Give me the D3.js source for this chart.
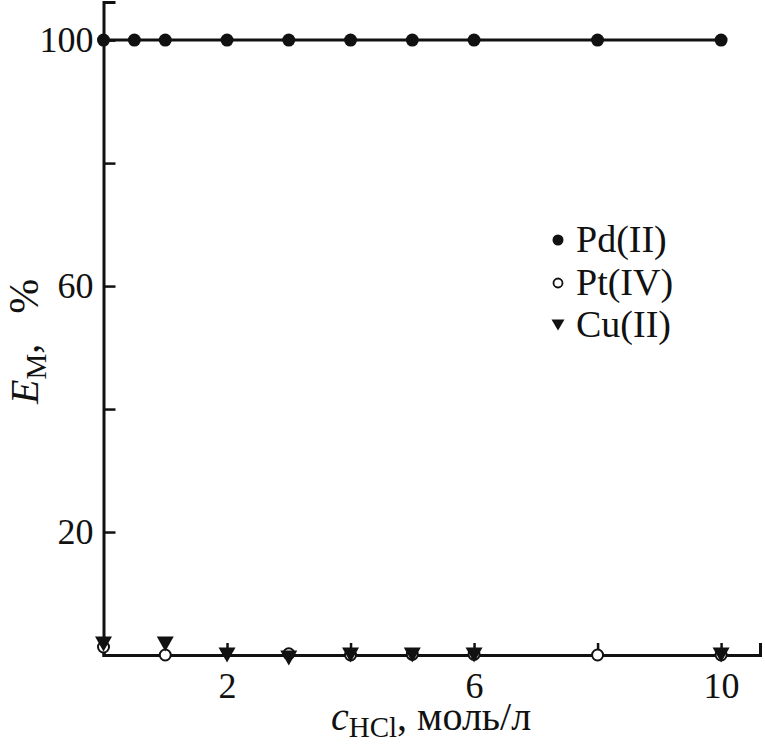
<!DOCTYPE html>
<html><head><meta charset="utf-8">
<script src="https://cdn.jsdelivr.net/npm/d3@7"></script>
<style>
body{margin:0;background:#fff;}
text{font-family:"Liberation Serif","Times New Roman",serif;fill:#111;}
</style></head>
<body><svg id="c" width="765" height="745"></svg>
<script>
// Data
const pdX = [0, 0.5, 1, 2, 3, 4, 5, 6, 8, 10];
const pdY = [100, 100, 100, 100, 100, 100, 100, 100, 100, 100];
const ptX = [0, 1, 3, 4, 5, 6, 8, 10];
const ptY = [1.3, 0, 0.2, 0, 0.1, 0.1, 0, 0];
const cuX = [0, 1, 2, 3, 4, 5, 6, 10];
const cuY = [1.8, 1.8, 0, -0.5, 0, 0, 0, 0];
const xTicks = [2, 4, 6, 8, 10];
const xLabels = [2, 6, 10];
const yTicks = [20, 40, 60, 80, 100];
const yLabels = [20, 60, 100];
const legendNames = ["Pd(II)", "Pt(IV)", "Cu(II)"];

const svg = d3.select("#c");
const x = d3.scaleLinear().domain([0, 10.63]).range([103.5, 760]);
const y = d3.scaleLinear().domain([0, 106.2]).range([655, 2]);
const ink = "#111";

// axes
const gx = svg.append("g").attr("transform", "translate(0,655)")
  .call(d3.axisBottom(x).tickValues(xTicks).tickSize(-12).tickPadding(17)
    .tickFormat(d => xLabels.includes(d) ? d : ""));
const gy = svg.append("g").attr("transform", "translate(103.5,0)")
  .call(d3.axisLeft(y).tickValues(yTicks).tickSize(-12).tickPadding(10)
    .tickFormat(d => yLabels.includes(d) ? d : ""));
[gx, gy].forEach(g => {
  g.select(".domain").attr("stroke", ink).attr("stroke-width", 3);
  g.selectAll(".tick line").attr("stroke", ink).attr("stroke-width", 2.5);
  g.selectAll(".tick text").attr("font-size", 36).attr("font-family", "Liberation Serif").attr("fill", ink);
});

// Pd line + markers
const pd = pdX.map((v, i) => [v, pdY[i]]);
svg.append("path").datum(pd)
  .attr("d", d3.line().x(d => x(d[0])).y(d => y(d[1])))
  .attr("fill", "none").attr("stroke", ink).attr("stroke-width", 3);
svg.selectAll(".pd").data(pd).enter().append("circle")
  .attr("cx", d => x(d[0])).attr("cy", d => y(d[1])).attr("r", 6.5).attr("fill", ink);

// Pt markers
const pt = ptX.map((v, i) => [v, ptY[i]]);
svg.selectAll(".pt").data(pt).enter().append("circle")
  .attr("cx", d => x(d[0])).attr("cy", d => y(d[1])).attr("r", 5.5)
  .attr("fill", "#fff").attr("stroke", ink).attr("stroke-width", 2);

// Cu markers (down triangles)
const tri = (cx, cy, w, h) => `M${cx - w / 2},${cy - h / 2}L${cx + w / 2},${cy - h / 2}L${cx},${cy + h / 2}Z`;
const cu = cuX.map((v, i) => [v, cuY[i]]);
svg.selectAll(".cu").data(cu).enter().append("path")
  .attr("d", d => tri(x(d[0]), y(d[1]), 17, 15)).attr("fill", ink);

// legend
const lg = svg.append("g");
const ly = [240, 283, 325];
lg.append("circle").attr("cx", 558).attr("cy", ly[0]).attr("r", 5.5).attr("fill", ink);
lg.append("circle").attr("cx", 558).attr("cy", ly[1]).attr("r", 4.5).attr("fill", "#fff").attr("stroke", ink).attr("stroke-width", 1.8);
lg.append("path").attr("d", tri(558, ly[2], 13, 11)).attr("fill", ink);
legendNames.forEach((n, i) => {
  lg.append("text").attr("x", 576).attr("y", ly[i] + 12).attr("font-size", 38).text(n);
});

// x title
const xt = svg.append("text").attr("x", 331).attr("y", 730).attr("font-size", 40);
xt.append("tspan").attr("font-style", "italic").text("c");
xt.append("tspan").attr("font-size", 29).attr("dy", 7).text("HCl");
xt.append("tspan").attr("dy", -7).text(", моль/л");

// y title
const yt = svg.append("text").attr("transform", "translate(38,404) rotate(-90)").attr("font-size", 40);
yt.append("tspan").attr("font-style", "italic").text("E");
yt.append("tspan").attr("font-size", 29).attr("dy", 8).text("M");
yt.append("tspan").attr("dy", -8).text(",");
yt.append("tspan").attr("dx", 30).attr("font-size", 42).text("%");
</script></body></html>
